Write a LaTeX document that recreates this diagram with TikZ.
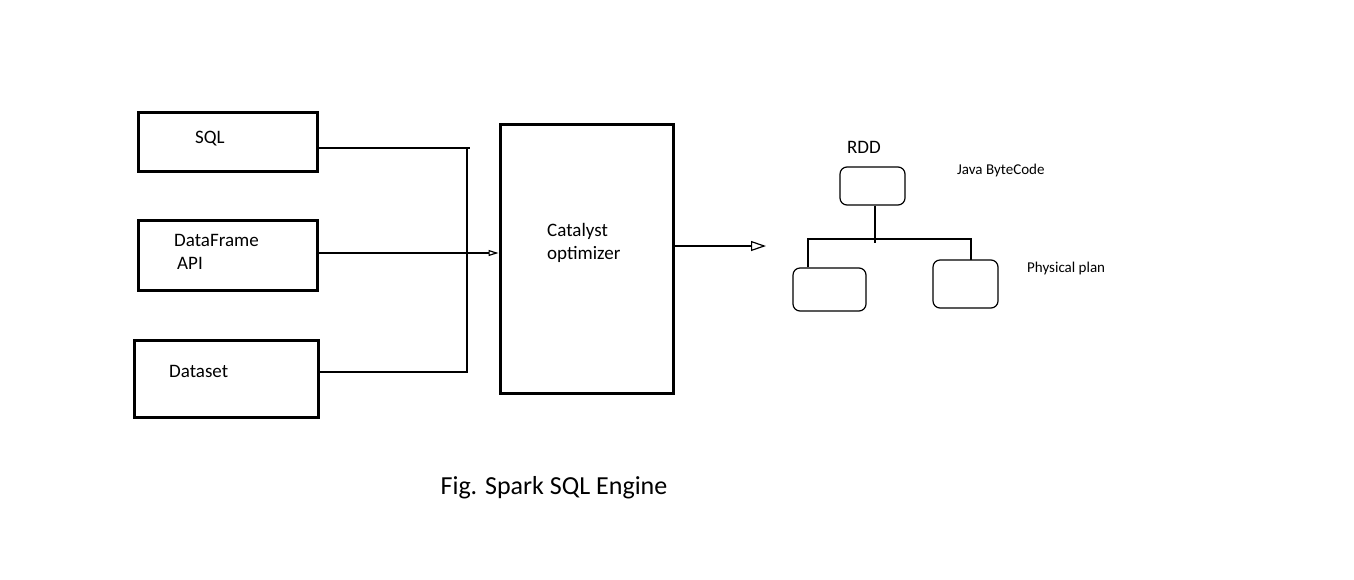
\documentclass[tikz,border=0pt]{standalone}
\usepackage{fontspec}
\setmainfont{Carlito}
\usetikzlibrary{arrows.meta,positioning}

\begin{document}
\begin{tikzpicture}[x=1pt,y=-1pt,
  inbox/.style={draw=black,line width=3pt,minimum width=#1},
  planbox/.style={draw=black,line width=1.2pt,rounded corners=7pt},
  wire/.style={draw=black,line width=1.2pt},
  lbl/.style={font=\fontsize{19}{22}\selectfont,anchor=west,inner sep=0pt,align=left},
  small/.style={font=\fontsize{15}{18}\selectfont,anchor=west,inner sep=0pt}]
  \useasboundingbox (0,0) rectangle (1354,579);

  % Input boxes
  \node[inbox=179pt,minimum height=59pt] (sql) at (227.5,141.5) {};
  \node[inbox=179pt,minimum height=70pt] (df) at (227.5,255) {};
  \node[inbox=184pt,minimum height=77pt] (ds) at (226,378.5) {};
  \node[lbl] (sqltxt) at (195,139) {SQL};
  \node[lbl] (dftxt) at (174,252) {DataFrame\\[1pt]\hspace{3pt}API};
  \node[lbl] (dstxt) at (169,371) {Dataset};

  % Catalyst
  \node[inbox=173pt,minimum height=269pt] (cat) at (586.5,258.5) {};
  \node[lbl] (cattxt) at (547,243) {Catalyst\\[1pt]optimizer};

  % Connectors into catalyst
  \coordinate (join) at (467,148);
  \draw[wire] (sql.east |- join) -- (join) -- (join |- 0,372) -- (ds.east |- 0,372);
  \draw[wire] (join) -- ++(3,0);
  \draw[wire,-{Triangle[open,length=10pt,width=6pt]}] (df.east |- 0,253) -- (cat.west |- 0,253);

  % Output
  \coordinate (out) at (766,246);
  \draw[wire,-{Triangle[open,length=15pt,width=10pt]}] (cat.east |- out) -- (out);

  % Physical plan tree
  \node[planbox,minimum width=65pt,minimum height=38pt] (rdd) at (872.5,186) {};
  \node[planbox,minimum width=73pt,minimum height=43pt] (left) at (829.5,289.5) {};
  \node[planbox,minimum width=65pt,minimum height=48pt] (right) at (965.5,284) {};
  \coordinate (bar) at (875,243);
  \draw[wire] (rdd.south -| bar) -- (bar);
  \draw[wire] (left.north -| 808,0) -- (808,239) -- (971,239) -- (971,260);

  \node[lbl,anchor=center] (rddtxt) at (864,147) {RDD};
  \node[small] (jbc) at (957,170) {Java ByteCode};
  \node[small] (pp) at (1027,268) {Physical plan};

  % Caption
  \node[font=\fontsize{26}{30}\selectfont,inner sep=0pt] (cap) at (554,488) {Fig. Spark SQL Engine};
\end{tikzpicture}
\end{document}
